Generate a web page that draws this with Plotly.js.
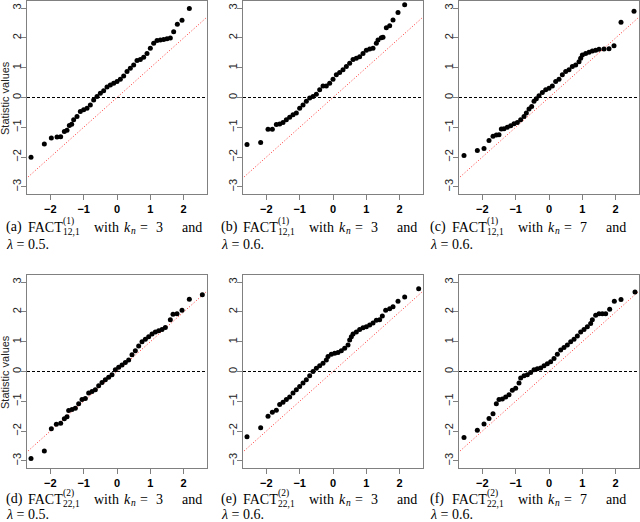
<!DOCTYPE html>
<html>
<head>
<meta charset="utf-8">
<script src="https://cdn.plot.ly/plotly-3.0.1.min.js"></script>
<style>
  body { margin: 0; background: #fff; }
  #chart { width: 640px; height: 522px; }
</style>
</head>
<body>
<div id="chart"></div>
<script>
// normal quantiles (x) against statistic values (y)
var qxA = [-2.58,-2.18,-1.97,-1.80,-1.69,-1.58,-1.50,-1.43,-1.36,-1.30,-1.20,-1.10,-1.00,-0.90,-0.80,-0.70,-0.60,-0.50,-0.40,-0.30,-0.20,-0.10,0.00,0.10,0.20,0.30,0.40,0.50,0.60,0.70,0.80,0.90,1.00,1.10,1.20,1.30,1.40,1.50,1.60,1.70,1.81,1.95,2.17];
var qyA = [-2.01,-1.56,-1.36,-1.33,-1.32,-1.14,-1.10,-0.94,-0.90,-0.75,-0.64,-0.47,-0.41,-0.36,-0.25,-0.08,0.03,0.14,0.23,0.35,0.42,0.48,0.54,0.61,0.72,0.87,0.98,1.09,1.24,1.28,1.35,1.48,1.65,1.82,1.91,1.93,1.95,1.97,2.00,2.21,2.46,2.59,2.99];

var qxB = [-2.58,-2.17,-1.95,-1.82,-1.70,-1.60,-1.50,-1.40,-1.30,-1.20,-1.10,-1.00,-0.90,-0.80,-0.70,-0.60,-0.50,-0.40,-0.30,-0.20,-0.10,0.00,0.10,0.20,0.30,0.40,0.50,0.60,0.70,0.80,0.90,1.00,1.10,1.20,1.30,1.35,1.45,1.50,1.60,1.70,1.80,1.95,2.15];
var qyB = [-1.58,-1.51,-1.07,-1.07,-0.91,-0.89,-0.84,-0.75,-0.66,-0.58,-0.52,-0.36,-0.25,-0.13,-0.02,0.03,0.11,0.26,0.39,0.39,0.48,0.61,0.76,0.84,0.93,1.04,1.15,1.28,1.32,1.37,1.48,1.59,1.63,1.65,1.82,1.93,2.01,2.02,2.34,2.41,2.60,2.85,3.11];

var qxC = [-2.55,-2.15,-1.95,-1.80,-1.68,-1.58,-1.50,-1.43,-1.35,-1.25,-1.15,-1.05,-0.95,-0.85,-0.75,-0.68,-0.60,-0.52,-0.45,-0.38,-0.30,-0.20,-0.10,0.00,0.10,0.20,0.30,0.40,0.50,0.60,0.70,0.80,0.90,0.95,1.00,1.10,1.20,1.30,1.40,1.50,1.65,1.80,1.95,2.16,2.55];
var qyC = [-1.95,-1.78,-1.71,-1.44,-1.30,-1.26,-1.25,-1.06,-1.05,-1.00,-0.95,-0.88,-0.84,-0.75,-0.64,-0.52,-0.39,-0.30,-0.13,-0.04,0.06,0.17,0.26,0.31,0.39,0.54,0.61,0.76,0.87,0.93,1.04,1.09,1.20,1.32,1.43,1.48,1.52,1.56,1.59,1.62,1.63,1.64,1.74,2.53,2.90];

var qxD = [-2.58,-2.18,-1.97,-1.82,-1.69,-1.58,-1.50,-1.45,-1.35,-1.25,-1.15,-1.05,-0.95,-0.85,-0.75,-0.65,-0.55,-0.45,-0.35,-0.25,-0.15,-0.05,0.05,0.15,0.25,0.35,0.45,0.55,0.65,0.75,0.85,0.95,1.05,1.15,1.25,1.35,1.45,1.60,1.68,1.80,1.95,2.17,2.56];
var qyD = [-2.92,-2.67,-1.92,-1.77,-1.74,-1.59,-1.52,-1.31,-1.28,-1.23,-1.08,-0.94,-0.91,-0.72,-0.67,-0.61,-0.48,-0.37,-0.28,-0.19,-0.11,0.06,0.14,0.22,0.30,0.39,0.56,0.70,0.86,1.00,1.08,1.17,1.26,1.33,1.37,1.41,1.48,1.74,1.92,1.94,2.06,2.43,2.58];

var qxE = [-2.58,-2.17,-1.95,-1.82,-1.70,-1.60,-1.50,-1.40,-1.30,-1.20,-1.10,-1.00,-0.90,-0.80,-0.70,-0.60,-0.50,-0.40,-0.30,-0.20,-0.15,-0.05,0.05,0.15,0.25,0.35,0.45,0.50,0.55,0.60,0.70,0.80,0.90,1.00,1.10,1.20,1.30,1.40,1.48,1.58,1.70,1.80,1.95,2.15,2.57];
var qyE = [-2.19,-1.89,-1.50,-1.37,-1.30,-1.11,-1.03,-0.94,-0.86,-0.72,-0.61,-0.50,-0.39,-0.28,-0.14,0.00,0.11,0.19,0.28,0.39,0.50,0.58,0.61,0.64,0.70,0.78,0.89,1.06,1.17,1.26,1.33,1.41,1.47,1.50,1.56,1.63,1.72,1.74,1.86,2.06,2.11,2.17,2.36,2.50,2.78];

var qxF = [-2.55,-2.15,-1.95,-1.80,-1.68,-1.58,-1.50,-1.40,-1.30,-1.20,-1.10,-1.00,-0.90,-0.85,-0.75,-0.65,-0.55,-0.45,-0.35,-0.25,-0.15,-0.05,0.05,0.15,0.25,0.35,0.45,0.55,0.65,0.75,0.85,0.95,1.05,1.15,1.25,1.30,1.40,1.50,1.60,1.70,1.82,1.96,2.16,2.58];
var qyF = [-2.22,-1.97,-1.76,-1.58,-1.42,-1.08,-0.94,-0.92,-0.86,-0.78,-0.63,-0.56,-0.39,-0.22,-0.14,-0.11,-0.03,0.06,0.09,0.12,0.19,0.26,0.33,0.44,0.58,0.72,0.81,0.89,1.00,1.08,1.19,1.33,1.41,1.50,1.61,1.74,1.89,1.94,1.94,1.94,2.09,2.36,2.42,2.67];

var panelX = [qxA, qxB, qxC, qxD, qxE, qxF];
var panelY = [qyA, qyB, qyC, qyD, qyE, qyF];

// caption parts
var panelTags = ['(a)', '(b)', '(c)', '(d)', '(e)', '(f)'];
var factSup = ['(1)', '(1)', '(1)', '(2)', '(2)', '(2)'];
var factSub = ['12,1', '12,1', '12,1', '22,1', '22,1', '22,1'];
var knValues = ['3', '3', '7', '3', '3', '7'];
var lambdaValues = ['0.5', '0.6', '0.6', '0.5', '0.6', '0.6'];

var xTicks = [-2, -1, 0, 1, 2];
var yTicks = [-3, -2, -1, 0, 1, 2, 3];
var refLine = [-3, 3];
var zeroLine = [0, 0];

var W = 640, H = 522;
function px(x) { return x / W; }
function py(y) { return 1 - y / H; }

var colLeft = [27, 243, 459];
var rowTop = [1, 275];
var boxW = 180, boxH = 193;
var capOff = [0, 215, 424];
var capLine1 = [227, 499];
var capLine2 = [245, 514];

var data = [];
var layout = {
  width: W,
  height: H,
  margin: { l: 0, r: 0, t: 0, b: 0 },
  paper_bgcolor: '#fff',
  plot_bgcolor: '#fff',
  showlegend: false,
  annotations: []
};

var serif = 'Liberation Serif, DejaVu Serif, serif';
var sans = 'Liberation Sans, Arial, sans-serif';

function note(text, x, y, size, anchor, extra) {
  var a = {
    text: text,
    xref: 'paper', yref: 'paper',
    x: px(x), y: py(y),
    xanchor: anchor || 'left', yanchor: 'middle',
    showarrow: false, borderpad: 0,
    font: { family: serif, size: size, color: '#000' }
  };
  for (var k in extra) a[k] = extra[k];
  layout.annotations.push(a);
}

for (var i = 0; i < 6; i++) {
  var row = Math.floor(i / 3), col = i % 3;
  var n = i === 0 ? '' : String(i + 1);
  var xa = 'x' + n, ya = 'y' + n;

  data.push({
    x: refLine, y: refLine, xaxis: xa, yaxis: ya,
    mode: 'lines', hoverinfo: 'skip',
    line: { color: '#ff3030', width: 1, dash: '1px,2px' }
  });
  data.push({
    x: refLine, y: zeroLine, xaxis: xa, yaxis: ya,
    mode: 'lines', hoverinfo: 'skip',
    line: { color: '#000', width: 1.1, dash: '3px,2px' }
  });
  data.push({
    x: panelX[i], y: panelY[i], xaxis: xa, yaxis: ya,
    mode: 'markers', cliponaxis: false,
    marker: { color: '#000', size: 5 }
  });

  var x0 = colLeft[col], y0 = rowTop[row];
  layout['xaxis' + n] = {
    domain: [px(x0), px(x0 + boxW)],
    anchor: ya,
    range: [-2.7, 2.7],
    tickvals: xTicks,
    ticks: 'outside', ticklen: 5, tickcolor: '#808080',
    ticklabelstandoff: 0,
    showline: true, mirror: true, linecolor: '#808080', linewidth: 1,
    showgrid: false, zeroline: false,
    tickfont: { family: sans, size: 11, color: '#000', weight: 'bold' }
  };
  layout['yaxis' + n] = {
    domain: [py(y0 + boxH), py(y0)],
    anchor: xa,
    range: [-3.24, 3.24],
    tickvals: yTicks,
    tickangle: -90,
    ticks: 'outside', ticklen: 5, tickcolor: '#808080',
    ticklabelstandoff: -4,
    showline: true, mirror: true, linecolor: '#808080', linewidth: 1,
    showgrid: false, zeroline: false,
    tickfont: { family: sans, size: 11, color: '#222' }
  };

  if (col === 0) {
    note('Statistic values', 5, y0 + 97, 11, 'center',
      { textangle: -90, font: { family: sans, size: 11, color: '#222' } });
  }

  // caption
  var cx = capOff[col];
  var l1 = capLine1[row];
  var l2 = capLine2[row];
  note(panelTags[i], cx + 5, l1, 14, 'left');
  note('FACT', cx + 27, l1, 14, 'left');
  note(factSup[i], cx + 62, l1 - 6, 9.5, 'left');
  note(factSub[i], cx + 62, l1 + 5, 9.5, 'left');
  note('with', cx + 93, l1, 14, 'left');
  note('<i>k</i>', cx + 123, l1, 14, 'left');
  note('<i>n</i>', cx + 130, l1 + 4, 9.5, 'left');
  note('=', cx + 139, l1, 14, 'left');
  note(knValues[i], cx + 155, l1, 14, 'left');
  note('and', cx + 181, l1, 14, 'left');
  note('<i>λ</i> = ' + lambdaValues[i] + '.', cx + 5, l2, 14, 'left');
}

Plotly.newPlot('chart', data, layout, { displayModeBar: false, staticPlot: true });
</script>
</body>
</html>
